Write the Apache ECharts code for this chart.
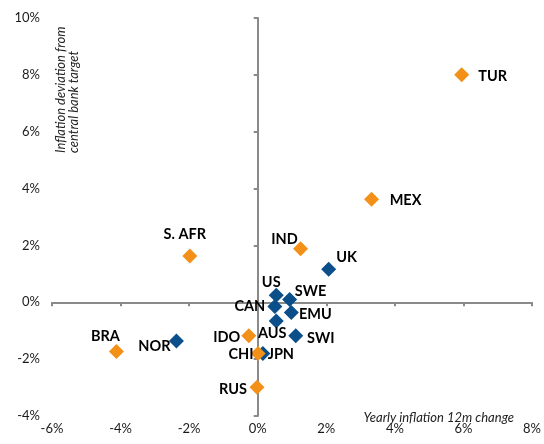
<!DOCTYPE html>
<html>
<head>
<meta charset="utf-8">
<script src="https://cdn.jsdelivr.net/npm/echarts@6/dist/echarts.min.js"></script>
<style>
  html, body { margin: 0; padding: 0; background: #fff; }
  #main { width: 544px; height: 444px; }
</style>
</head>
<body>
<div id="main"></div>
<script>
// emerging markets (orange)
var emNames = ['TUR', 'MEX', 'S. AFR', 'IND', 'BRA', 'IDO', 'CHI', 'RUS'];
var emX = [5.95, 3.32, -1.98, 1.25, -4.12, -0.26, 0.01, -0.02];
var emY = [8.0, 3.62, 1.63, 1.88, -1.73, -1.18, -1.8, -2.99];

// developed markets (blue)
var dmNames = ['UK', 'US', 'SWE', 'CAN', 'EMU', 'AUS', 'SWI', 'JPN', 'NOR'];
var dmX = [2.07, 0.54, 0.93, 0.5, 0.98, 0.54, 1.11, 0.15, -2.37];
var dmY = [1.16, 0.25, 0.1, -0.15, -0.36, -0.66, -1.18, -1.8, -1.36];

var xTicks = [-6, -4, -2, 0, 2, 4, 6, 8];
var yTicks = [-4, -2, 0, 2, 4, 6, 8, 10];

// label offsets from the marker centre (px)
var labelOffset = {
  'TUR': [31, 1], 'MEX': [34, 1], 'S. AFR': [-5, -22], 'IND': [-16, -10],
  'BRA': [-11, -15], 'IDO': [-22, 1], 'CHI': [-17, 1], 'RUS': [-24, 2],
  'UK': [18, -12], 'US': [-5, -13], 'SWE': [21, -8], 'CAN': [-25, 0],
  'EMU': [24, 2], 'AUS': [-4, 12], 'SWI': [25, 2], 'JPN': [18, 1], 'NOR': [-22, 5]
};

function points(names, xs, ys) {
  return names.map(function (n, i) {
    return {
      name: n,
      value: [xs[i], ys[i]],
      label: { offset: labelOffset[n] }
    };
  });
}

var fontFam = 'Lato, "Open Sans", sans-serif';
var axisGrey = '#8a8a8a';

var chart = echarts.init(document.getElementById('main'));

var lbl = {
  show: true,
  position: 'inside',
  formatter: '{b}',
  color: '#000',
  fontWeight: 'bold',
  fontSize: 14.5,
  fontFamily: fontFam
};

chart.setOption({
  animation: false,
  grid: { left: 52, right: 12, top: 18, bottom: 28 },
  xAxis: [
    {
      type: 'value', min: xTicks[0], max: xTicks[xTicks.length - 1], interval: 2,
      position: 'bottom',
      axisLine: { show: false, onZero: false },
      axisTick: { show: false },
      splitLine: { show: false },
      axisLabel: { formatter: '{value}%', color: '#1a1a1a', fontSize: 13, fontFamily: fontFam, margin: 6 }
    },
    {
      type: 'value', min: xTicks[0], max: xTicks[xTicks.length - 1], interval: 2,
      position: 'top',
      axisLine: { show: true, onZero: true, onZeroAxisIndex: 0, lineStyle: { color: axisGrey, width: 2 } },
      axisTick: { show: true, inside: true, length: 4, lineStyle: { color: axisGrey, width: 2 } },
      splitLine: { show: false },
      axisLabel: { show: false }
    }
  ],
  yAxis: [
    {
      type: 'value', min: yTicks[0], max: yTicks[yTicks.length - 1], interval: 2,
      position: 'left',
      axisLine: { show: false, onZero: false },
      axisTick: { show: false },
      splitLine: { show: false },
      axisLabel: { formatter: '{value}%', color: '#1a1a1a', fontSize: 13, fontFamily: fontFam, margin: 12 }
    },
    {
      type: 'value', min: yTicks[0], max: yTicks[yTicks.length - 1], interval: 2,
      position: 'right',
      axisLine: { show: true, onZero: true, onZeroAxisIndex: 0, lineStyle: { color: axisGrey, width: 2 } },
      axisTick: { show: true, inside: true, length: 4, lineStyle: { color: axisGrey, width: 2 } },
      splitLine: { show: false },
      axisLabel: { show: false }
    }
  ],
  graphic: [
    {
      type: 'text',
      x: 54, y: 153, rotation: Math.PI / 2,
      style: {
        text: 'Inflation deviation from\ncentral bank target',
        fill: '#222', font: 'italic 13px ' + fontFam,
        align: 'left', verticalAlign: 'top', lineHeight: 13
      }
    },
    {
      type: 'text',
      x: 514, y: 418,
      style: {
        text: 'Yearly inflation 12m change',
        fill: '#222', font: 'italic 13px ' + fontFam,
        align: 'right', verticalAlign: 'middle'
      }
    }
  ],
  series: [
    {
      name: 'Developed', type: 'scatter', xAxisIndex: 0, yAxisIndex: 0,
      symbol: 'diamond', symbolSize: 15,
      itemStyle: { color: '#0B4F8A', opacity: 1 },
      label: lbl,
      data: points(dmNames, dmX, dmY)
    },
    {
      name: 'Emerging', type: 'scatter', xAxisIndex: 0, yAxisIndex: 0,
      symbol: 'diamond', symbolSize: 15,
      itemStyle: { color: '#F39018', opacity: 1 },
      label: lbl,
      data: points(emNames, emX, emY)
    }
  ]
});
</script>
</body>
</html>
